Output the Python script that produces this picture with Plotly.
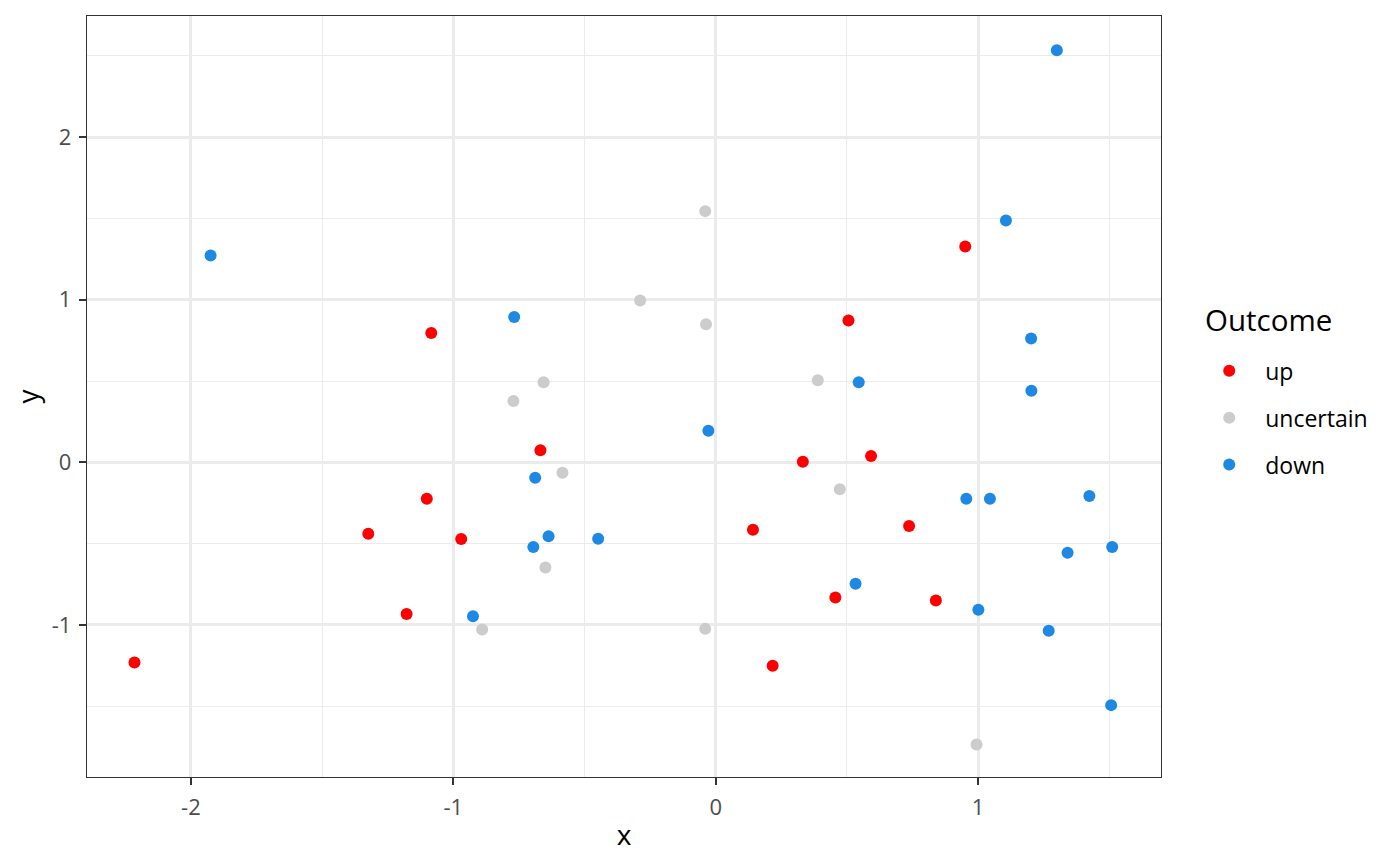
import plotly.graph_objects as go

# Data
up_x = [0.332, 0.592, 0.142, 0.737, 0.456, 0.839, 0.217, -0.668, -1.101, -1.324,
        -0.970, -1.178, -2.215, -1.084, 0.951, 0.506]
up_y = [0.004, 0.039, -0.414, -0.392, -0.831, -0.849, -1.251, 0.074, -0.224, -0.439,
        -0.472, -0.933, -1.231, 0.796, 1.327, 0.872]

uncertain_x = [0.473, -0.040, 0.994, -0.584, -0.649, -0.890, -0.288, -0.656, -0.771,
               -0.040, -0.037, 0.389]
uncertain_y = [-0.166, -1.024, -1.735, -0.064, -0.646, -1.028, 0.995, 0.492, 0.377,
               1.545, 0.849, 0.505]

down_x = [0.955, 1.045, 1.424, 1.341, 1.511, 0.533, 1.001, 1.269, 1.507, -0.688,
          -0.637, -0.448, -0.695, -0.925, -1.925, -0.768, 1.300, 1.106, 1.202, 0.545,
          1.203, -0.028]
down_y = [-0.224, -0.224, -0.207, -0.556, -0.521, -0.747, -0.907, -1.036, -1.493, -0.094,
          -0.455, -0.470, -0.521, -0.946, 1.272, 0.894, 2.534, 1.487, 0.761, 0.492,
          0.441, 0.194]

categories = ["up", "uncertain", "down"]
colors = {"up": "#FF0000", "uncertain": "#CCCCCC", "down": "#1E88E5"}
series = {"up": (up_x, up_y), "uncertain": (uncertain_x, uncertain_y), "down": (down_x, down_y)}
legend_title = "Outcome"

x_tick_vals = [-2, -1, 0, 1]
x_tick_text = ["-2", "-1", "0", "1"]
y_tick_vals = [-1, 0, 1, 2]
y_tick_text = ["-1", "0", "1", "2"]

FONT = "Open Sans"

fig = go.Figure()
for cat in categories:
    xs, ys = series[cat]
    fig.add_trace(go.Scatter(
        x=xs, y=ys, mode="markers", name=cat, legendgroup=cat,
        marker=dict(color=colors[cat], size=12, line=dict(width=0)),
    ))

axis_common = dict(
    showgrid=True, gridcolor="#EBEBEB", gridwidth=2.6,
    zeroline=False, showline=True, mirror=True, linecolor="#333333", linewidth=1.3,
    ticks="outside", ticklen=7, tickwidth=1.6, tickcolor="#333333",
    tickfont=dict(family=FONT, size=22, color="#4D4D4D"),
    ticklabelstandoff=3,
    tickmode="array",
    minor=dict(showgrid=True, gridcolor="#EBEBEB", gridwidth=1.3, dtick=0.5, tick0=0.5, ticks=""),
)

fig.update_layout(
    width=1392, height=858,
    paper_bgcolor="white", plot_bgcolor="white",
    margin=dict(l=79, r=239, t=8, b=89),
    font=dict(family=FONT, color="black"),
    xaxis=dict(range=[-2.396, 1.697], tickvals=x_tick_vals, ticktext=x_tick_text,
               title=dict(text="x", font=dict(size=28, color="black"), standoff=5),
               **axis_common),
    yaxis=dict(range=[-1.935, 2.745], tickvals=y_tick_vals, ticktext=y_tick_text,
               title=dict(text="y", font=dict(size=28, color="black"), standoff=14),
               **axis_common),
    legend=dict(
        font=dict(size=23, color="black"),
        x=1.03, xanchor="left", y=0.562, yanchor="top",
        tracegroupgap=14, itemwidth=62,
        bgcolor="rgba(0,0,0,0)",
    ),
    annotations=[dict(
        text=legend_title, xref="paper", yref="paper",
        x=1.0391, xanchor="left", y=0.601, yanchor="middle",
        showarrow=False, font=dict(size=29.5, color="black", family=FONT),
    )],
    showlegend=True,
)

fig.write_html("out.html")
